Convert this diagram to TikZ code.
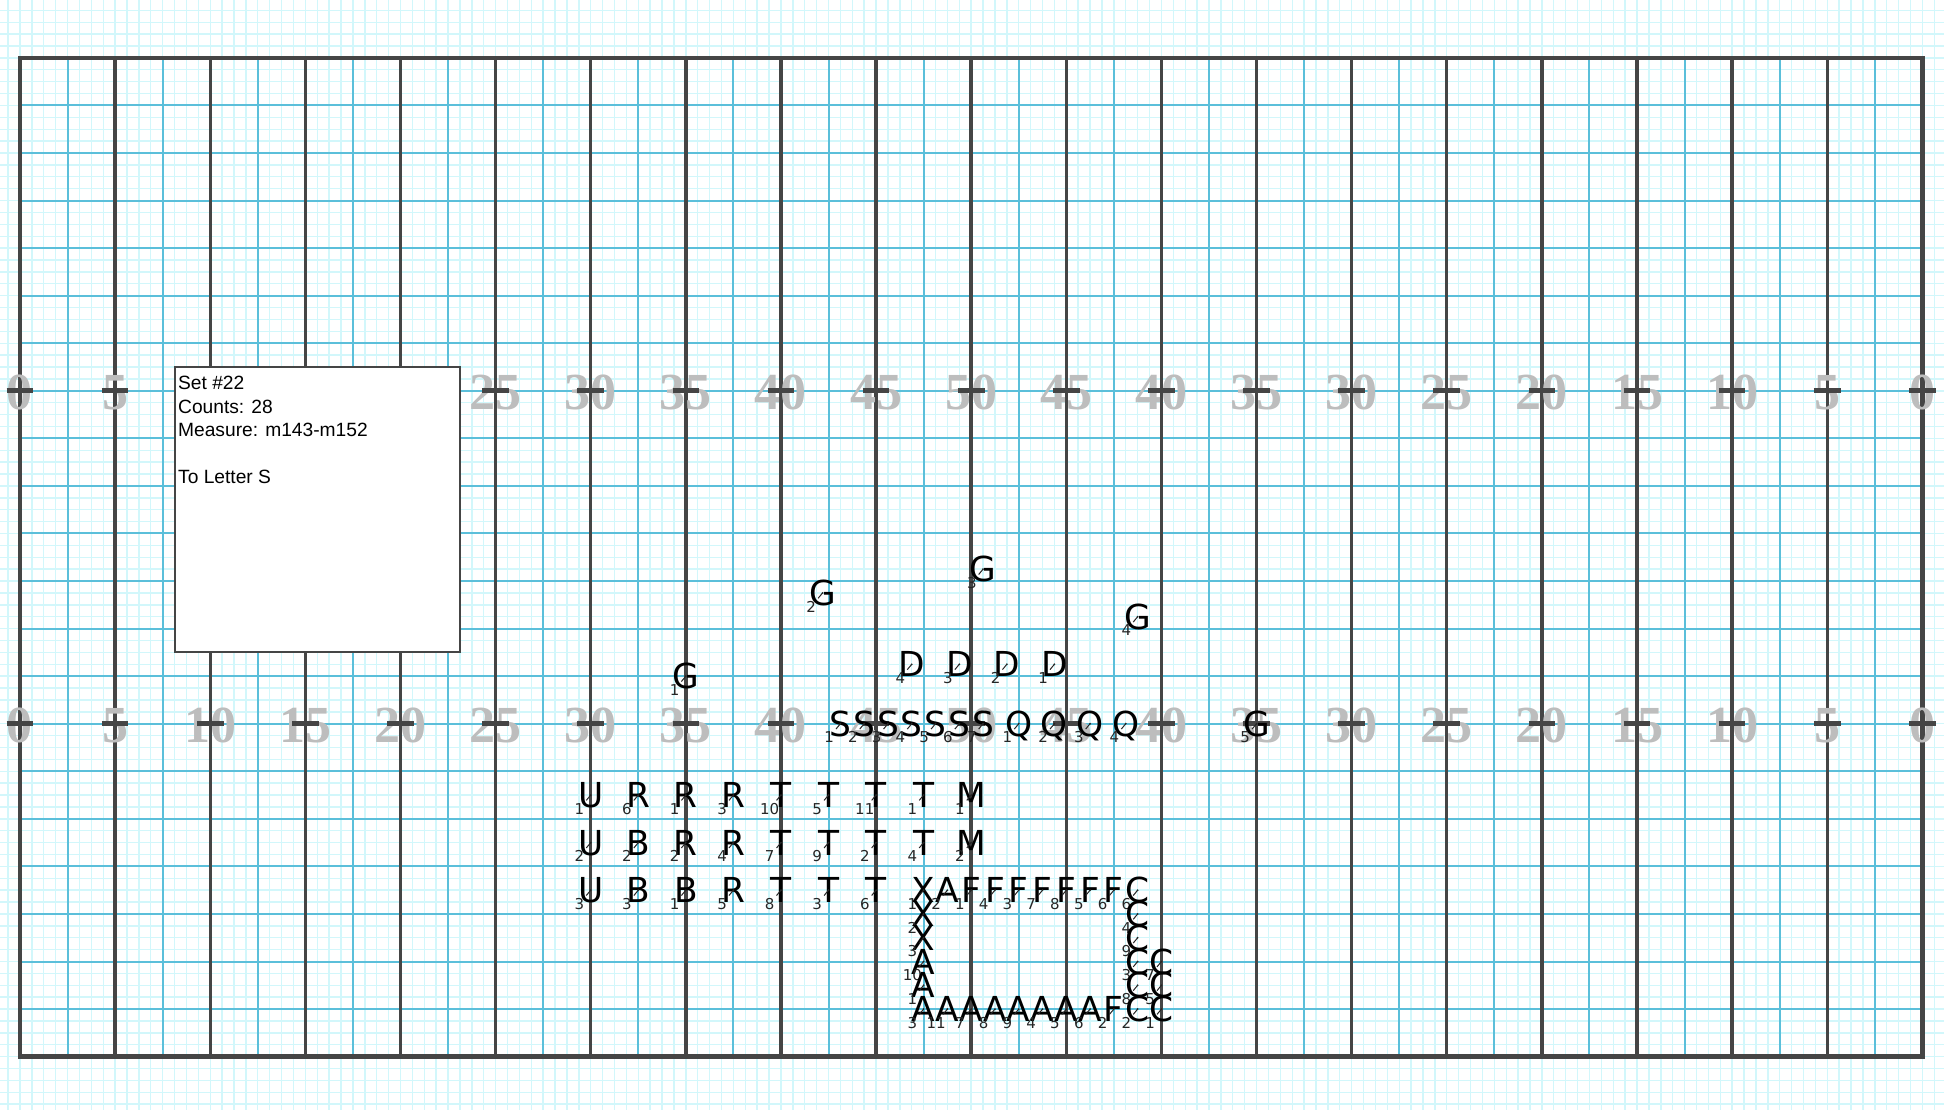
\documentclass[tikz,border=0pt]{standalone}
\usepackage{fontspec}
\setmainfont{Liberation Sans}
\newfontfamily\markfont{DejaVu Sans}
\newfontfamily\yardfont{Liberation Serif}
\usetikzlibrary{positioning}
\definecolor{gridCyan}{HTML}{D2F7FB}
\definecolor{lineBlue}{HTML}{5BBFDA}
\definecolor{fieldDark}{HTML}{454545}
\definecolor{yardGrey}{HTML}{BDBDBD}
\definecolor{markDark}{HTML}{262626}

\newcommand{\marcher}[4]{%
    \node[markletter] (#1#2) at (#3,#4) {#1};
    \node[marknum] (#1#2n) at ([shift={(-0.95,-1.15)}]#1#2.center) {#2};
    \draw[tickline] (#1#2.center) -- (#1#2n.center);
    \fill[markDark] (#1#2.center) circle (0.5pt);
}

\begin{document}
\begin{tikzpicture}[x=5.945pt, y=5.945pt,
    markletter/.style={font=\markfont\fontsize{17.2}{17.2}\selectfont, inner sep=0pt,
          text height=12.5pt, text depth=0pt},
    marknum/.style={font=\markfont\fontsize{7.5}{7.5}\selectfont, text=markDark,
          inner sep=0pt, text height=5.5pt, text depth=0pt},
    tickline/.style={draw=markDark, line width=0.5pt, shorten >=5.4pt},
    yardnum/.style={font=\yardfont\bfseries\fontsize{26}{26}\selectfont, text=yardGrey,
          inner sep=0pt, text height=17.6pt, text depth=0pt},
    hashmark/.style={draw=fieldDark, line width=2.6pt},
    infobox/.style={draw=fieldDark, line width=1pt, fill=white,
          minimum width=142.7pt, minimum height=142.7pt, inner sep=0pt}]
    \useasboundingbox (-1.682,-4.483) rectangle (161.82,88.87);
    \fill[white] (-1.682,-4.483) rectangle (161.82,88.87);
    \draw[gridCyan, line width=0.7pt, step=1] (-1.682,-4.483) grid (161.82,88.87);
    \foreach \k in {0,...,19}
        \draw[lineBlue, line width=1pt] (8*\k+4,0) -- (8*\k+4,84);
    \foreach \j in {1,...,20}
        \draw[lineBlue, line width=1pt] (0,4*\j) -- (160,4*\j);
    \foreach \k in {0,...,20}
        \draw[fieldDark, line width=1.7pt] (8*\k,0) -- (8*\k,84);
    \draw[fieldDark, line width=2.2pt] (0,0) rectangle (160,84);

    \foreach \k in {0,...,20} {
        \pgfmathtruncatemacro{\yd}{5*min(\k,20-\k)}
        \node[yardnum] (lo\k) at (8*\k,27.9) {\yd};
        \node[yardnum] (up\k) at (8*\k,55.9) {\yd};
        \draw[hashmark] (8*\k-1.12,28) -- (8*\k+1.12,28);
        \draw[hashmark] (8*\k-1.12,56) -- (8*\k+1.12,56);
    }

    \node[infobox] (info) at (25,46) {};
    \node[anchor=north west, inner sep=0pt, align=left,
          font=\fontsize{9.6}{11.67}\selectfont] (infotext)
      at ([xshift=2.1pt, yshift=-5pt]info.north west)
      {Set \#22\\Counts: 28\\Measure: m143-m152\\\\To Letter S};

    \marcher{G}{1}{56}{32}
    \marcher{G}{2}{67.5}{39}
    \marcher{G}{3}{81}{41}
    \marcher{G}{4}{94}{37}
    \marcher{G}{5}{104}{28}
    \marcher{D}{4}{75}{33}
    \marcher{D}{3}{79}{33}
    \marcher{D}{2}{83}{33}
    \marcher{D}{1}{87}{33}
    \marcher{S}{1}{69}{28}
    \marcher{S}{2}{71}{28}
    \marcher{S}{3}{73}{28}
    \marcher{S}{4}{75}{28}
    \marcher{S}{5}{77}{28}
    \marcher{S}{6}{79}{28}
    \marcher{S}{7}{81}{28}
    \marcher{Q}{1}{84}{28}
    \marcher{Q}{2}{87}{28}
    \marcher{Q}{3}{90}{28}
    \marcher{Q}{4}{93}{28}

    \marcher{U}{1}{48}{22}
    \marcher{R}{6}{52}{22}
    \marcher{R}{1}{56}{22}
    \marcher{R}{3}{60}{22}
    \marcher{T}{10}{64}{22}
    \marcher{T}{5}{68}{22}
    \marcher{T}{11}{72}{22}
    \marcher{T}{1}{76}{22}
    \marcher{M}{1}{80}{22}

    \marcher{U}{2}{48}{18}
    \marcher{B}{2}{52}{18}
    \marcher{R}{2}{56}{18}
    \marcher{R}{4}{60}{18}
    \marcher{T}{7}{64}{18}
    \marcher{T}{9}{68}{18}
    \marcher{T}{2}{72}{18}
    \marcher{T}{4}{76}{18}
    \marcher{M}{2}{80}{18}

    \marcher{U}{3}{48}{14}
    \marcher{B}{3}{52}{14}
    \marcher{B}{1}{56}{14}
    \marcher{R}{5}{60}{14}
    \marcher{T}{8}{64}{14}
    \marcher{T}{3}{68}{14}
    \marcher{T}{6}{72}{14}
    \marcher{X}{1}{76}{14}
    \marcher{A}{2}{78}{14}
    \marcher{F}{1}{80}{14}
    \marcher{F}{4}{82}{14}
    \marcher{F}{3}{84}{14}
    \marcher{F}{7}{86}{14}
    \marcher{F}{8}{88}{14}
    \marcher{F}{5}{90}{14}
    \marcher{F}{6}{92}{14}
    \marcher{C}{6}{94}{14}

    \marcher{X}{2}{76}{12}
    \marcher{X}{3}{76}{10}
    \marcher{A}{10}{76}{8}
    \marcher{A}{1}{76}{6}
    \marcher{A}{3}{76}{4}
    \marcher{C}{4}{94}{12}
    \marcher{C}{9}{94}{10}
    \marcher{C}{3}{94}{8}
    \marcher{C}{8}{94}{6}
    \marcher{C}{7}{96}{8}
    \marcher{C}{5}{96}{6}

    \marcher{A}{11}{78}{4}
    \marcher{A}{7}{80}{4}
    \marcher{A}{8}{82}{4}
    \marcher{A}{9}{84}{4}
    \marcher{A}{4}{86}{4}
    \marcher{A}{5}{88}{4}
    \marcher{A}{6}{90}{4}
    \marcher{F}{2}{92}{4}
    \marcher{C}{2}{94}{4}
    \marcher{C}{1}{96}{4}
\end{tikzpicture}
\end{document}
